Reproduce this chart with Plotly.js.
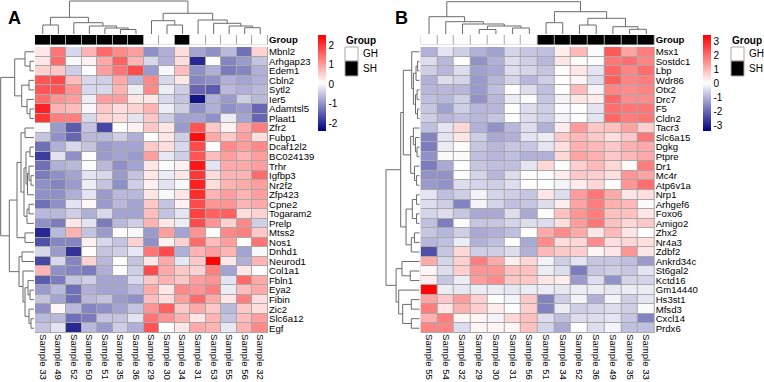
<!DOCTYPE html>
<html>
<head>
<meta charset="utf-8">
<script src="https://cdn.plot.ly/plotly-3.0.1.min.js"></script>
<style>html,body{margin:0;padding:0;background:#fff}#chart{width:764px;height:382px}</style>
</head>
<body>
<div id="chart"></div>
<script>
// ---------- Panel A ----------
const samplesA = ['Sample 33','Sample 49','Sample 52','Sample 50','Sample 51','Sample 35','Sample 36','Sample 29','Sample 30','Sample 34','Sample 31','Sample 53','Sample 55','Sample 56','Sample 32'];
const groupA = ['SH','SH','SH','SH','SH','SH','SH','GH','GH','SH','GH','GH','GH','GH','GH'];
const genesA = ['Mbnl2','Arhgap23','Edem1','Cbln2','Sytl2','Ier5','Adamtsl5','Plaat1','Zfr2','Fubp1','Dcaf12l2','BC024139','Trhr','Igfbp3','Nr2f2','Zfp423','Cpne2','Togaram2','Prelp','Mtss2','Nos1','Dnhd1','Neurod1','Col1a1','Fbln1','Eya2','Fibin','Zic2','Slc6a12','Egf'];
const valuesA = [
  [0.3,1.4,-0.3,0.8,1.5,1.2,1.0,-1.0,-0.7,0.4,-0.8,-1.0,-0.6,-1.3,0.5],
  [0.3,1.5,0.0,0.2,0.9,1.6,0.8,-0.3,-0.7,0.4,-2.0,0.05,-1.1,-0.9,-0.5],
  [0.5,0.6,-0.4,0.05,1.0,1.4,1.8,-0.9,0.0,0.7,-1.0,-0.7,-1.2,-1.1,-0.7],
  [1.7,1.8,0.7,-0.3,-0.4,0.9,-0.6,1.2,-0.3,0.3,-1.1,-1.0,-0.7,-0.8,-0.7],
  [1.7,1.7,1.1,-0.3,-0.3,0.8,-0.1,1.2,-0.1,-0.4,-1.4,-1.5,-0.6,-0.7,-0.6],
  [1.5,1.1,1.0,-0.1,1.0,1.0,0.3,0.3,-0.3,-0.5,-2.2,-0.7,-0.9,-0.4,-0.6],
  [2.2,0.8,0.7,0.0,0.6,0.4,0.5,0.8,-0.1,-0.4,-1.0,-0.7,-1.0,-0.9,-1.4],
  [2.0,1.3,1.3,-0.3,0.5,0.4,-0.2,0.6,-0.4,-0.8,-0.8,-1.0,-0.1,-0.8,-1.4],
  [0.0,-0.9,-1.5,-0.5,-1.7,0.05,0.2,0.6,0.3,-0.9,1.7,0.6,0.2,0.9,1.3],
  [-0.5,-1.0,-1.4,-0.6,-0.6,-0.4,-0.7,0.05,0.3,-0.4,2.4,0.9,0.6,1.0,0.4],
  [-1.3,-0.7,-0.3,-0.5,-0.9,-0.8,-0.8,0.6,0.4,-0.3,1.8,0.05,1.2,1.0,1.2],
  [-1.8,-0.2,-1.0,0.05,-0.9,-0.8,-0.9,1.0,-0.15,-0.4,1.7,0.7,1.0,0.8,1.0],
  [-1.3,-0.7,-0.6,0.05,-0.6,-1.0,-0.8,0.3,0.05,0.2,2.3,-0.2,0.9,0.9,1.0],
  [-1.2,-1.0,-0.8,-0.2,-0.3,-0.9,-0.5,0.3,-0.1,0.3,2.0,0.4,0.8,0.8,1.5],
  [-1.0,-1.1,-0.9,-0.1,-0.5,-1.0,-0.4,0.2,-0.2,0.0,2.2,0.4,0.8,0.9,1.0],
  [-1.0,-1.0,-0.7,-0.2,-0.9,-0.6,-0.6,0.3,0.0,0.3,2.1,0.8,1.0,0.8,1.0],
  [-1.3,-1.0,-0.2,0.15,-0.9,-0.6,-0.8,0.6,-0.5,0.2,1.8,1.1,1.1,0.8,0.9],
  [-0.6,-0.6,-0.4,-0.7,-0.3,-0.8,-0.8,0.7,-0.5,-0.2,1.9,1.6,1.6,0.4,0.5],
  [-1.0,-1.2,0.3,-0.2,-1.2,-0.6,-0.4,0.8,0.3,-0.1,1.8,1.1,0.5,1.2,-0.4],
  [-2.0,-0.6,0.8,-0.5,-0.9,0.05,0.0,-0.9,1.0,-0.8,1.1,0.1,1.2,1.3,0.6],
  [-1.6,-1.1,-1.1,0.2,-0.3,-0.5,0.5,-1.0,0.2,0.5,1.5,0.7,1.0,0.1,1.4],
  [-0.3,-0.9,-1.9,0.05,-0.5,-0.4,-0.15,1.4,1.8,-0.7,0.8,1.0,0.8,-0.8,0.0],
  [-1.7,-0.3,-1.1,0.5,-0.6,0.1,-0.5,0.3,0.9,-0.15,0.6,2.5,0.3,-0.7,0.8],
  [0.8,-1.0,-1.1,-1.2,-0.7,0.05,-0.4,1.8,0.9,0.6,0.5,1.3,-0.8,0.3,0.05],
  [-1.5,-1.2,-0.5,-0.4,-0.8,-0.8,-0.3,0.6,0.8,0.6,1.0,1.1,-0.2,1.5,0.9],
  [-0.9,-0.6,-1.3,-0.7,-0.8,-0.8,-0.6,0.9,0.3,1.2,1.1,1.3,-0.1,0.7,0.9],
  [-0.5,-0.8,-1.3,-0.6,-0.5,-0.9,-1.0,0.7,0.4,1.0,1.5,0.9,0.3,1.3,0.4],
  [-1.0,0.15,-0.6,-1.1,-1.0,-0.8,-0.5,1.1,1.6,0.6,0.9,0.6,-0.6,0.6,0.4],
  [-0.6,-0.6,-1.3,-1.2,-0.5,-0.5,-0.2,1.4,1.1,0.8,0.3,0.8,-0.5,0.7,1.0],
  [-0.5,-0.2,-2.0,-0.6,-0.9,-0.4,-0.7,1.7,0.05,0.3,0.9,0.8,-0.15,0.8,1.2]
];
// hclust-style merges: negative = leaf (1-based, display order), positive = earlier merge row; last = height
const colTreeA = [
  [-1,-2,9],[-6,-7,4.5],[-5,2,6],[-4,3,8],[-3,4,11.3],[1,5,16.7],
  [-9,-10,9],[-8,7,13.3],[-14,-15,6.3],[-13,9,8],[-12,10,10.7],[-11,11,14],[8,12,20.7],[6,13,33]
];
const rowTreeA = [
  [-2,-3,4],[-1,1,9],[-4,-5,5],[-7,-8,4],[-6,4,7],[3,5,12.3],[2,6,19.3],
  [-9,-10,9],[-11,-12,4],[-14,-15,3],[-13,10,5],[11,-16,6.5],[9,12,8],[-17,-18,5],[14,-19,7],[13,15,10],[8,16,13],
  [-20,-21,9],[17,18,17],
  [-22,-23,12],[-26,-27,4],[-25,21,6],[-29,-30,3],[-28,23,5],[22,24,9],[-24,25,11],[20,26,15],
  [19,27,24.7],[7,28,33.3]
];

// ---------- Panel B ----------
const samplesB = ['Sample 55','Sample 54','Sample 32','Sample 29','Sample 30','Sample 31','Sample 56','Sample 51','Sample 34','Sample 52','Sample 36','Sample 49','Sample 35','Sample 33'];
const groupB = ['GH','GH','GH','GH','GH','GH','GH','SH','SH','SH','SH','SH','SH','SH'];
const genesB = ['Msx1','Sostdc1','Lbp','Wdr86','Otx2','Drc7','F5','Cldn2','Tacr3','Slc6a15','Dgkg','Ptpre','Dr1','Mc4r','Atp6v1a','Nrp1','Arhgef6','Foxo6','Amigo2','Zhx2','Nr4a3','Zdbf2','Ankrd34c','St6gal2','Kctd16','Gm14440','Hs3st1','Mfsd3','Cxcl14','Prdx6'];
const valuesB = [
  [-1.0,-0.3,-0.6,-1.0,-1.2,-0.5,-0.7,-0.8,0.3,1.0,0.0,2.3,1.3,1.8],
  [-0.4,-0.9,0.05,-1.4,-1.0,-0.4,-0.6,-0.9,0.4,0.1,0.05,1.9,2.0,1.7],
  [-0.6,-0.9,-0.4,-1.2,-1.1,-0.4,-0.5,-0.7,0.1,0.4,-0.3,2.1,1.7,2.0],
  [-1.0,-0.4,-0.5,-1.3,-0.9,-0.5,-0.9,-0.6,0.1,0.2,-0.4,2.2,1.7,1.8],
  [-0.9,-0.9,-0.9,-1.3,-0.8,0.1,-0.4,-0.8,0.1,1.0,-0.1,1.7,1.6,1.7],
  [-0.8,-0.9,-0.6,-1.4,-0.9,-0.2,0.0,-0.7,-0.1,0.4,0.3,2.1,1.6,1.6],
  [-0.7,-1.2,-0.6,-0.9,-0.9,0.05,-0.4,-0.6,0.0,0.1,-0.3,2.0,1.9,1.9],
  [-0.6,-0.9,-0.8,-0.9,-0.7,0.05,-0.4,-0.6,-0.1,0.05,-0.3,2.1,1.8,1.9],
  [-0.8,-0.3,0.6,-1.0,-1.4,-0.9,-0.4,-1.0,0.3,1.4,0.8,0.9,1.3,0.7],
  [-1.6,-0.3,0.4,-0.6,-1.1,-1.0,-0.3,-0.2,0.8,1.0,0.8,0.5,0.8,1.9],
  [-1.7,-0.2,0.0,-0.7,-0.9,-0.7,-0.7,-0.3,0.5,1.1,1.0,0.8,1.1,1.2],
  [-1.4,0.0,0.0,-0.8,-0.9,-0.8,-1.0,-1.0,0.6,1.3,1.1,0.8,1.0,1.2],
  [-1.7,-1.1,0.05,-0.7,-0.8,-0.8,-0.3,0.6,0.05,0.7,1.0,0.6,0.1,1.8],
  [-1.4,-1.4,0.05,-0.5,-0.9,-0.4,0.05,0.0,0.3,0.8,0.7,0.5,1.5,1.3],
  [-1.3,-1.4,-0.4,-0.5,-0.6,-0.4,0.1,0.05,-0.1,0.3,0.6,0.1,1.5,2.0],
  [-0.3,-0.8,-0.6,-0.1,-0.5,-0.6,-0.7,0.4,-0.4,1.4,1.9,1.2,0.4,0.5],
  [-0.4,-0.6,-1.6,-0.1,-0.5,-0.8,-0.7,-0.4,0.3,1.3,1.8,1.1,1.0,0.0],
  [-0.5,-0.4,-0.7,-1.1,-1.1,-0.4,-1.1,0.05,0.9,1.5,1.8,0.9,0.9,0.4],
  [-0.8,-1.7,0.0,-0.7,-0.7,-0.5,-0.4,-0.4,0.5,1.4,1.9,0.9,0.6,0.8],
  [-0.7,-0.9,-0.6,-1.1,-1.0,-0.8,0.05,1.2,1.6,1.2,0.4,1.0,0.4,0.05],
  [-0.9,-0.8,-0.2,-1.0,-0.8,0.05,-1.1,1.6,0.5,0.6,1.6,0.5,0.6,0.5],
  [-2.3,-0.7,0.6,-0.6,-0.6,-0.4,-1.0,1.0,0.8,0.7,0.2,0.4,1.5,0.4],
  [1.2,-0.5,0.7,1.8,1.2,0.3,0.6,-0.1,-0.6,-0.3,-0.7,-0.7,-0.8,-1.3],
  [0.2,-0.4,0.7,1.5,1.5,0.9,0.9,-0.2,-0.4,-1.7,-0.7,-0.6,-0.7,-0.3],
  [0.3,-0.7,-0.2,1.4,1.6,0.8,0.8,0.4,0.3,-1.3,-0.4,-1.4,-0.5,-0.5],
  [3.4,-0.2,-0.25,-0.2,-0.2,-0.25,-0.2,-0.2,-0.25,-0.2,-0.2,-0.25,-0.2,-0.2],
  [1.3,0.8,1.4,0.7,0.05,-0.1,0.8,-1.6,-0.6,-0.1,-1.0,-0.1,-0.6,-0.3],
  [1.8,0.4,1.1,0.7,0.3,0.05,0.7,-1.6,-0.2,-0.6,-0.5,-0.4,-0.6,0.0],
  [1.1,1.8,0.2,0.2,-0.1,0.6,0.9,-0.4,-0.8,-0.4,-0.4,-0.3,-0.7,-1.6],
  [1.7,1.7,-0.4,0.2,0.2,0.2,0.9,-0.5,-1.1,0.05,-0.4,-0.1,-0.8,-0.8]
];
const colTreeB = [
  [-4,-5,4.5],[-6,-7,6],[1,2,8],[-3,3,10],[-2,4,12.3],[-1,5,17.3],
  [-8,-9,11.3],[-10,-11,9],[-13,-14,4.7],[-12,9,7.3],[8,10,15.7],[7,11,22.3],[6,12,32.3]
];
const rowTreeB = [
  [-2,-3,2],[1,-4,3.5],[-5,-6,2.5],[-7,-8,2],[3,4,4],[2,5,6],[-1,6,7.6],
  [-11,-12,2.5],[-10,8,4],[-9,9,6],[-14,-15,3],[-13,11,5],[10,12,8.6],[7,13,15.6],
  [-16,-17,3],[-18,-19,3],[15,16,7],[-20,-21,5],[18,-22,8],[17,19,13],[14,20,18.1],
  [-24,-25,9],[-23,22,16.9],[-27,-28,8],[-29,-30,8],[24,25,16.2],[-26,26,20],[23,27,22.5],
  [21,28,32.1]
];

// ---------- helpers ----------
// Walk an hclust merge table and return polyline coordinates (leaf axis, height axis)
function dendro(merges) {
  const pos = [], hgt = [];
  const P = i => i < 0 ? -i - 1 : pos[i - 1];
  const H = i => i < 0 ? 0 : hgt[i - 1];
  const a = [], b = [];
  merges.forEach(([l, r, h]) => {
    const pl = P(l), pr = P(r), hl = H(l), hr = H(r);
    a.push(pl, pl, pr, pr, null);
    b.push(hl, h, h, hr, null);
    pos.push((pl + pr) / 2); hgt.push(h);
  });
  return {leaf: a, h: b};
}
const W = 764, Hh = 382;
const px = v => v / W, py = v => 1 - v / Hh;
const redBlue = [[0, '#000080'], [0.5, '#ffffff'], [1, '#ff0000']];
const font = 'Liberation Sans, Arial, sans-serif';
const lineCol = '#6b6b6b';
const lab = {family: font, size: 9.6, color: '#000'};

function panel(opt) {
  const {samples, groups, genes, vals, colTree, rowTree, x0, x1, sfx, zmin, zmax, ticks, cbX, legX, dendX0} = opt;
  const nx = samples.length, ny = genes.length;
  const xa = 'x' + sfx.h, ya = 'y' + sfx.h, yg = 'y' + sfx.g, yd = 'y' + sfx.d, xd = 'x' + sfx.d;
  const traces = [];
  traces.push({
    type: 'heatmap', z: vals, x: samples.map((_, i) => i), y: genes.map((_, i) => i),
    xaxis: xa, yaxis: ya, zmin, zmax, colorscale: redBlue, xgap: 1, ygap: 1,
    hoverinfo: 'skip',
    colorbar: {x: px(cbX), xanchor: 'left', y: py(35), yanchor: 'top', len: 96, lenmode: 'pixels',
      thickness: 8, thicknessmode: 'pixels', xpad: 0, ypad: 0, outlinewidth: 0, ticks: '',
      tickvals: ticks, ticktext: ticks.map(String),
      tickfont: {family: font, size: 10, color: '#000'}}
  });
  traces.push({
    type: 'heatmap', z: [groups.map(g => g === 'SH' ? 1 : 0)], x: samples.map((_, i) => i), y: [0],
    xaxis: xa, yaxis: yg, zmin: 0, zmax: 1, colorscale: [[0, '#ffffff'], [1, '#000000']],
    showscale: false, xgap: 1, hoverinfo: 'skip'
  });
  const cd = dendro(colTree);
  traces.push({type: 'scatter', mode: 'lines', x: cd.leaf, y: cd.h, xaxis: xa, yaxis: yd,
    line: {color: lineCol, width: 1}, hoverinfo: 'skip', showlegend: false});
  const rd = dendro(rowTree);
  traces.push({type: 'scatter', mode: 'lines', x: rd.h, y: rd.leaf, xaxis: xd, yaxis: ya,
    line: {color: lineCol, width: 1}, hoverinfo: 'skip', showlegend: false});

  const L = {};
  const noGrid = {showgrid: false, zeroline: false, showline: false, ticks: ''};
  L[xa.replace('x', 'xaxis')] = Object.assign({}, noGrid, {
    domain: [px(x0), px(x1)], range: [-0.5, nx - 0.5], anchor: ya,
    tickvals: samples.map((_, i) => i), ticktext: samples, tickangle: 90, tickfont: lab
  });
  L[ya.replace('y', 'yaxis')] = Object.assign({}, noGrid, {
    domain: [py(333), py(47)], range: [ny - 0.5, -0.5], anchor: xa, side: 'right',
    tickvals: genes.map((_, i) => i), ticktext: genes, tickfont: lab
  });
  L[yg.replace('y', 'yaxis')] = Object.assign({}, noGrid, {
    domain: [py(44.5), py(35)], range: [0.5, -0.5], anchor: xa, side: 'right',
    tickvals: [0], ticktext: ['<b>Group</b>'], tickfont: lab
  });
  L[yd.replace('y', 'yaxis')] = Object.assign({}, noGrid, {
    domain: [py(34), py(0)], range: [0, 34], anchor: xa, showticklabels: false
  });
  L[xd.replace('x', 'xaxis')] = Object.assign({}, noGrid, {
    domain: [px(dendX0), px(x0 - 1)], range: [34, 0], anchor: ya, showticklabels: false
  });

  const shapes = [
    {type: 'rect', xref: xa, yref: ya, x0: -0.5, x1: nx - 0.5, y0: -0.5, y1: ny - 0.5,
      fillcolor: '#a8a8a8', line: {color: '#a8a8a8', width: 1}, layer: 'below'},
    {type: 'rect', xref: xa, yref: yg, x0: -0.5, x1: nx - 0.5, y0: -0.5, y1: 0.5,
      fillcolor: '#a8a8a8', line: {color: '#a8a8a8', width: 1}, layer: 'below'},
    {type: 'rect', xref: 'paper', yref: 'paper', x0: px(legX), x1: px(legX + 13), y0: py(47), y1: py(61),
      fillcolor: '#ffffff', line: {color: '#a8a8a8', width: 1}},
    {type: 'rect', xref: 'paper', yref: 'paper', x0: px(legX), x1: px(legX + 13), y0: py(61), y1: py(76),
      fillcolor: '#000000', line: {color: '#a8a8a8', width: 1}}
  ];
  const ann = [
    {text: '<b>Group</b>', x: px(legX - 1), y: py(40), xanchor: 'left', yanchor: 'middle'},
    {text: 'GH', x: px(legX + 16), y: py(54), xanchor: 'left', yanchor: 'middle'},
    {text: 'SH', x: px(legX + 16), y: py(69), xanchor: 'left', yanchor: 'middle'}
  ].map(a => Object.assign({xref: 'paper', yref: 'paper', showarrow: false,
    font: {family: font, size: 10, color: '#000'}}, a));
  return {traces, L, shapes, ann};
}

const A = panel({samples: samplesA, groups: groupA, genes: genesA, vals: valuesA,
  colTree: colTreeA, rowTree: rowTreeA, x0: 35, x1: 268, sfx: {h: '', g: '2', d: '3'},
  zmin: -2.38, zmax: 2.52, ticks: [2, 1, 0, -1, -2], cbX: 318, legX: 345, dendX0: 0});
const B = panel({samples: samplesB, groups: groupB, genes: genesB, vals: valuesB,
  colTree: colTreeB, rowTree: rowTreeB, x0: 420.7, x1: 654.7, sfx: {h: '4', g: '5', d: '6'},
  zmin: -3.36, zmax: 3.48, ticks: [3, 2, 1, 0, -1, -2, -3], cbX: 703, legX: 731, dendX0: 384});

const layout = Object.assign({
  width: W, height: Hh, margin: {l: 0, r: 0, t: 0, b: 0},
  paper_bgcolor: '#ffffff', plot_bgcolor: 'rgba(0,0,0,0)', showlegend: false,
  font: {family: font, size: 10, color: '#000'},
  shapes: A.shapes.concat(B.shapes),
  annotations: A.ann.concat(B.ann).concat([
    {text: '<b>A</b>', x: px(6), y: py(18), xanchor: 'left', yanchor: 'middle', xref: 'paper', yref: 'paper',
      showarrow: false, font: {family: font, size: 18, color: '#000'}},
    {text: '<b>B</b>', x: px(393), y: py(18), xanchor: 'left', yanchor: 'middle', xref: 'paper', yref: 'paper',
      showarrow: false, font: {family: font, size: 18, color: '#000'}}
  ])
}, A.L, B.L);

Plotly.newPlot('chart', A.traces.concat(B.traces), layout, {staticPlot: true, displayModeBar: false});
</script>
</body>
</html>
